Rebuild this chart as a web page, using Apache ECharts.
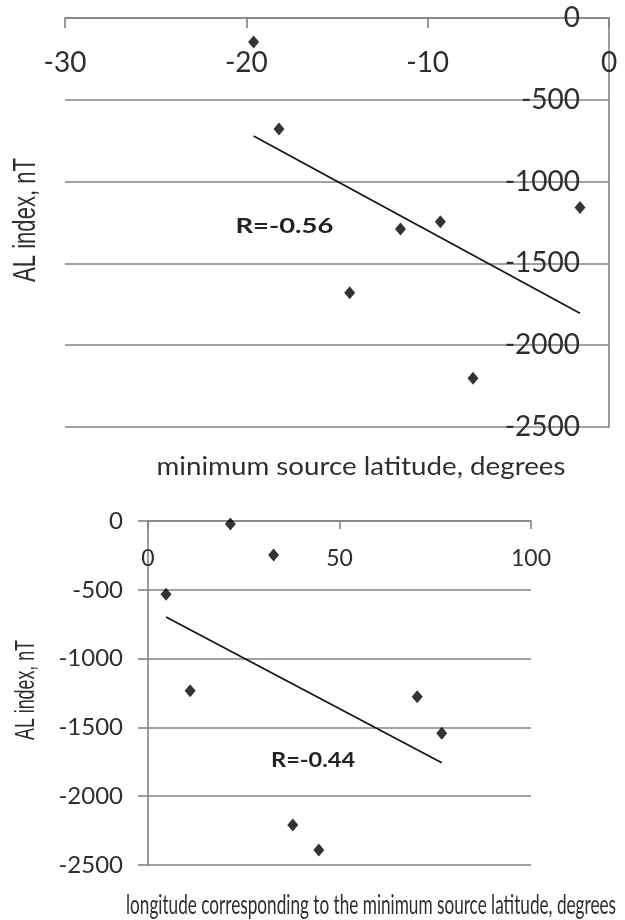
<!DOCTYPE html>
<html>
<head>
<meta charset="utf-8">
<script src="https://cdn.jsdelivr.net/npm/echarts@6/dist/echarts.min.js"></script>
<style>
  html, body { margin: 0; padding: 0; background: #ffffff; }
  #chart { width: 625px; height: 920px; }
</style>
</head>
<body>
<div id="chart"></div>
<script>
// ---- Upper panel: AL index against minimum source latitude ----
const latTicks = [-30, -20, -10, 0];
const alTicks = [-2500, -2000, -1500, -1000, -500, 0];
const minLatitude = [-19.6, -18.2, -14.3, -11.5, -9.3, -7.5, -1.6];
const alByLatitude = [-147, -678, -1679, -1290, -1245, -2202, -1159];
const latTrendX = [-19.6, -1.6];
const latTrendY = [-721, -1805];
const latR = 'R=-0.56';

// ---- Lower panel: AL index against longitude of the minimum source latitude ----
const lonTicks = [0, 50, 100];
const minLongitude = [21.5, 32.8, 4.7, 11.0, 70.3, 76.7, 37.8, 44.6];
const alByLongitude = [-22, -247, -533, -1233, -1277, -1543, -2209, -2391];
const lonTrendX = [4.7, 76.7];
const lonTrendY = [-698, -1757];
const lonR = 'R=-0.44';

const yName = 'AL index, nT';
const latName = 'minimum source latitude, degrees';
const lonName = 'longitude corresponding to the minimum source latitude, degrees';

// ---- drawing ----
const GRID = '#838383';
const TEXT = '#2e2e2e';
const FONT = 'Lato, "Open Sans", sans-serif';

const pairs = (xs, ys) => xs.map((x, i) => [x, ys[i]]);
const span = t => ({ min: t[0], max: t[t.length - 1], interval: t[1] - t[0] });
const plain = v => String(v);

const chart = echarts.init(document.getElementById('chart'), null, { renderer: 'canvas' });

function xAxisOf(gridIndex, ticks, fontSize, margin, tickLen) {
  return Object.assign({
    gridIndex, type: 'value', position: 'top',
    axisLine: { show: true, onZero: false, lineStyle: { color: GRID, width: 1.6 } },
    axisTick: { show: true, inside: true, length: tickLen, lineStyle: { color: GRID, width: 1.6 } },
    axisLabel: { inside: true, margin, fontSize, fontFamily: FONT, color: TEXT, formatter: plain },
    splitLine: { show: false }
  }, span(ticks));
}

function yAxisOf(gridIndex, ticks, position, inside, fontSize, margin, tick) {
  return Object.assign({
    gridIndex, type: 'value', position,
    axisLine: { show: true, onZero: false, lineStyle: { color: GRID, width: 1.6 } },
    axisTick: tick ? { show: true, inside: false, length: 10, lineStyle: { color: GRID, width: 1.6 } } : { show: false },
    axisLabel: { inside, margin, fontSize, fontFamily: FONT, color: TEXT, formatter: plain },
    splitLine: { show: true, lineStyle: { color: GRID, width: 1.6 } }
  }, span(ticks));
}

const dots = (i, data) => ({
  type: 'scatter', xAxisIndex: i, yAxisIndex: i, data,
  symbol: 'diamond', symbolSize: [11, 13], itemStyle: { color: '#000' }, z: 5
});
const trend = (i, data) => ({
  type: 'line', xAxisIndex: i, yAxisIndex: i, data,
  showSymbol: false, symbol: 'none', lineStyle: { color: '#111', width: 1.6 }, z: 4
});

chart.setOption({
  animation: false,
  backgroundColor: '#ffffff',
  grid: [
    { left: 65, top: 18, width: 544, height: 409 },
    { left: 148, top: 521, width: 383, height: 344 }
  ],
  xAxis: [
    xAxisOf(0, latTicks, 28, 31, 10),
    xAxisOf(1, lonTicks, 23, 26, 8)
  ],
  yAxis: [
    yAxisOf(0, alTicks, 'right', true, 28, 29, false),
    yAxisOf(1, alTicks, 'left', false, 24, 25, true)
  ],
  series: [
    trend(0, pairs(latTrendX, latTrendY)),
    dots(0, pairs(minLatitude, alByLatitude)),
    trend(1, pairs(lonTrendX, lonTrendY)),
    dots(1, pairs(minLongitude, alByLongitude))
  ]
});

// Titles and correlation labels, narrowed to the widths they occupy on the page
const ctx = document.createElement('canvas').getContext('2d');
function label(text, opts) {
  const weight = opts.weight || 'normal';
  ctx.font = `${weight} ${opts.size}px ${opts.family}`;
  const w = ctx.measureText(text).width;
  return {
    type: 'text', x: opts.x, y: opts.y, rotation: opts.rotation || 0,
    scaleX: opts.width / w, z: 10,
    style: {
      text, fontSize: opts.size, fontFamily: opts.family, fontWeight: weight,
      fill: opts.color || TEXT, align: 'center', verticalAlign: 'middle'
    }
  };
}

const latRPos = chart.convertToPixel({ gridIndex: 0 }, [-17.9, -1271]);
const lonRPos = chart.convertToPixel({ gridIndex: 1 }, [43.1, -1737]);

chart.setOption({
  graphic: [
    label(yName, { x: 26, y: 220, rotation: Math.PI / 2, size: 31, family: '"Liberation Sans", Arial, sans-serif', width: 124 }),
    label(latName, { x: 361, y: 467, size: 25, family: FONT, width: 409 }),
    label(yName, { x: 27, y: 690, rotation: Math.PI / 2, size: 27, family: '"Liberation Sans", Arial, sans-serif', width: 100 }),
    label(lonName, { x: 371, y: 905, size: 27, family: FONT, width: 490 }),
    label(latR, { x: latRPos[0], y: latRPos[1], size: 21, weight: 'bold', family: FONT, width: 98, color: '#222' }),
    label(lonR, { x: lonRPos[0], y: lonRPos[1], size: 21, weight: 'bold', family: FONT, width: 84, color: '#222' })
  ]
});
</script>
</body>
</html>
